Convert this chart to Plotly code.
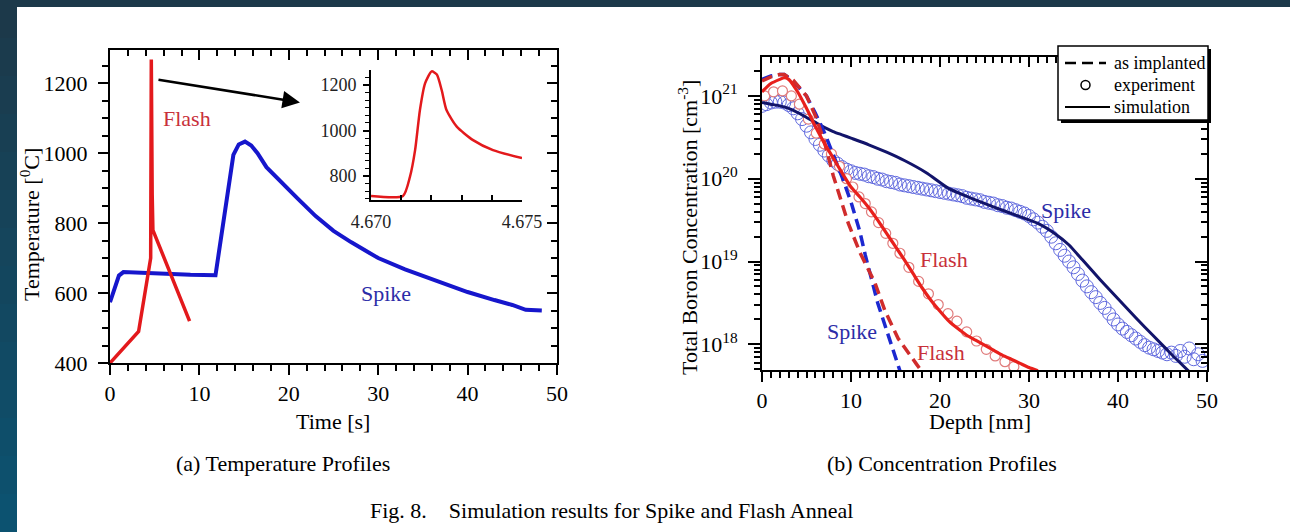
import plotly.graph_objects as go

# figure fills the whole 1290x532 window (body margin removed in the page)
OFF = 0
FW, FH = 1290, 532

# ---------------- (a) Temperature profiles ----------------
spike_time = [0, 0.5, 1.0, 1.5, 3, 6, 9, 11.8, 12.5, 13.2, 13.8, 14.4, 15.1, 15.8, 16.5, 17.5,
              19, 21, 23, 25, 27, 30, 33, 35, 38, 40, 43, 45, 46.5, 48.3]
spike_temp = [574, 615, 650, 660, 658, 655, 652, 651, 770, 895, 995, 1025, 1033, 1022, 1000, 960,
              920, 870, 820, 778, 745, 700, 668, 650, 622, 603, 580, 566, 552, 550]

flash_time = [0, 3.2, 4.55, 4.62, 4.72, 4.8, 8.9]
flash_temp = [400, 490, 700, 1268, 880, 780, 520]

inset_time = [4.6700, 4.67106, 4.67129, 4.67146, 4.67162, 4.67179, 4.67201, 4.67218,
              4.67234, 4.6725, 4.67284, 4.67338, 4.67404, 4.6750]
inset_temp = [713, 713, 797, 914, 1090, 1207, 1260, 1246, 1178, 1090, 1017, 958, 914, 879]

temp_ticks = [400, 600, 800, 1000, 1200]
time_ticks = [0, 10, 20, 30, 40, 50]
inset_yticks = [800, 1000, 1200]
inset_xticks = [4.670, 4.675]
inset_xlabels = ["4.670", "4.675"]

# ---------------- (b) Concentration profiles (log10 of cm^-3) ----------------
spike_impl_depth = [0, 1, 2, 2.5, 3.5, 5, 6, 7, 8, 9, 10, 11, 11.6, 13, 14, 15, 15.5]
spike_impl_log = [21.20, 21.24, 21.26, 21.26, 21.18, 21.0, 20.79, 20.56, 20.29, 20.02, 19.72,
                  19.36, 19.08, 18.50, 18.17, 17.84, 17.68]

flash_impl_depth = [0, 1, 2, 2.5, 3.5, 5, 6, 7, 8, 9, 9.7, 11, 12.7, 13.8, 15.3, 17.3, 17.9]
flash_impl_log = [21.18, 21.23, 21.26, 21.26, 21.19, 21.0, 20.76, 20.45, 20.04, 19.70, 19.46,
                  19.11, 18.74, 18.41, 18.07, 17.77, 17.68]

spike_sim_depth = [0, 1, 2, 3, 4, 5, 6, 7, 8, 9, 10, 12, 14, 16, 18.5, 21, 23.4, 26, 28.5, 31,
                   33, 34.5, 36, 38, 40, 42, 44, 46, 48]
spike_sim_log = [20.92, 20.90, 20.88, 20.85, 20.80, 20.74, 20.68, 20.62, 20.57, 20.53, 20.49,
                 20.41, 20.32, 20.22, 20.07, 19.88, 19.77, 19.66, 19.56, 19.46, 19.33, 19.20,
                 19.02, 18.78, 18.55, 18.32, 18.10, 17.88, 17.67]

flash_sim_depth = [0, 1, 2, 2.5, 3, 4, 5, 6, 7, 8, 9, 10, 11, 12, 13, 14, 15, 16, 17, 18, 19,
                   20, 21, 22, 23, 24, 25, 26, 27, 28, 29, 30, 31]
flash_sim_log = [21.05, 21.15, 21.20, 21.22, 21.20, 21.05, 20.85, 20.63, 20.43, 20.25, 20.07,
                 19.90, 19.78, 19.65, 19.50, 19.34, 19.18, 19.02, 18.85, 18.68, 18.53, 18.40,
                 18.28, 18.19, 18.11, 18.05, 17.99, 17.93, 17.87, 17.82, 17.77, 17.72, 17.68]

spike_exp_depth = [0.0, 0.5, 1.0, 1.5, 2.0, 2.5, 3.0, 3.5, 4.0, 4.5,
                   5.0, 5.5, 6.0, 6.5, 7.0, 7.5, 8.0, 8.5, 9.0, 9.5,
                   10.0, 10.5, 11.0, 11.5, 12.0, 12.5, 13.0, 13.5, 14.0, 14.5,
                   15.0, 15.5, 16.0, 16.5, 17.0, 17.5, 18.0, 18.5, 19.0, 19.5,
                   20.0, 20.5, 21.0, 21.5, 22.0, 22.5, 23.0, 23.5, 24.0, 24.5,
                   25.0, 25.5, 26.0, 26.5, 27.0, 27.5, 28.0, 28.5, 29.0, 29.5,
                   30.0, 30.5, 31.0, 31.5, 32.0, 32.5, 33.0, 33.5, 34.0, 34.5,
                   35.0, 35.5, 36.0, 36.5, 37.0, 37.5, 38.0, 38.5, 39.0, 39.5,
                   40.0, 40.5, 41.0, 41.5, 42.0, 42.5, 43.0, 43.5, 44.0, 44.5,
                   45.0, 45.5, 46.0, 46.5, 47.0, 47.5, 48.0, 48.5, 49.0, 49.5]
spike_exp_log = [20.88, 20.90, 20.92, 20.93, 20.93, 20.92, 20.89, 20.85, 20.79, 20.72,
                 20.64, 20.56, 20.48, 20.41, 20.34, 20.28, 20.22, 20.18, 20.14, 20.11,
                 20.09, 20.07, 20.06, 20.05, 20.03, 20.02, 20.00, 19.99, 19.97, 19.96,
                 19.95, 19.93, 19.92, 19.91, 19.90, 19.89, 19.88, 19.87, 19.86, 19.85,
                 19.84, 19.83, 19.82, 19.81, 19.80, 19.79, 19.77, 19.76, 19.75, 19.74,
                 19.72, 19.71, 19.70, 19.68, 19.67, 19.65, 19.64, 19.62, 19.60, 19.58,
                 19.55, 19.51, 19.47, 19.42, 19.37, 19.30, 19.22, 19.14, 19.07, 19.00,
                 18.93, 18.85, 18.77, 18.70, 18.63, 18.57, 18.50, 18.44, 18.37, 18.30,
                 18.24, 18.19, 18.15, 18.11, 18.07, 18.03, 17.99, 17.96, 17.94, 17.92,
                 17.90, 17.88, 17.90, 17.86, 17.92, 17.85, 17.95, 17.82, 17.88, 17.80]

flash_exp_depth = [0.3, 1.3, 2.3, 3.3, 4.2, 5.2, 6.1, 7.0, 7.8, 8.7, 9.5, 10.2, 10.9, 11.6,
                   12.3, 13.1, 13.9, 14.7, 15.5, 16.5, 17.6, 18.7, 19.8, 20.9, 21.9, 23.0,
                   24.1, 25.2, 26.2, 27.3, 28.3]
flash_exp_log = [21.00, 21.05, 21.06, 21.00, 20.90, 20.72, 20.55, 20.42, 20.30, 20.15, 20.00,
                 19.90, 19.78, 19.70, 19.60, 19.47, 19.34, 19.22, 19.10, 18.93, 18.76, 18.61,
                 18.48, 18.37, 18.28, 18.15, 18.04, 17.94, 17.86, 17.79, 17.73]

conc_tick_exps = [18, 19, 20, 21]
depth_ticks = [0, 10, 20, 30, 40, 50]
legend_labels = ["as implanted", "experiment", "simulation"]


def pw(v):
    return [10.0 ** float(x) for x in v]


# ---------------- styling ----------------
SERIF = "Liberation Serif, Times New Roman, serif"
RED = "#e3191c"
BLUE = "#1616cc"
NAVY = "#12146a"
LBLUE = "#6069de"
LRED = "#e07c7c"
LBL_RED = "#c8303a"
LBL_BLUE = "#2c2ca8"


def fx(p):
    return (p - OFF) / FW


def fy(p):
    return 1 - (p - OFF) / FH


fig = go.Figure()

# left chart traces
fig.add_trace(go.Scatter(x=spike_time, y=spike_temp, mode="lines",
                         line=dict(color=BLUE, width=4), xaxis="x", yaxis="y", showlegend=False))
fig.add_trace(go.Scatter(x=flash_time, y=flash_temp, mode="lines",
                         line=dict(color=RED, width=3.5), xaxis="x", yaxis="y", showlegend=False))
fig.add_trace(go.Scatter(x=[None], y=[None], xaxis="x2", yaxis="y", showlegend=False))
fig.add_trace(go.Scatter(x=[None], y=[None], xaxis="x", yaxis="y2", showlegend=False))
# inset
fig.add_trace(go.Scatter(x=inset_time, y=inset_temp, mode="lines",
                         line=dict(color=RED, width=2.5, shape="spline", smoothing=0.6),
                         xaxis="x3", yaxis="y3", showlegend=False, cliponaxis=False))

# right chart traces
fig.add_trace(go.Scatter(x=spike_exp_depth, y=pw(spike_exp_log), mode="markers",
                         marker=dict(symbol="circle-open", size=13, color=LBLUE,
                                     line=dict(width=1.0, color=LBLUE)),
                         xaxis="x4", yaxis="y4", showlegend=False))
fig.add_trace(go.Scatter(x=flash_exp_depth, y=pw(flash_exp_log), mode="markers",
                         marker=dict(symbol="circle", size=10, color="white",
                                     line=dict(width=1.2, color=LRED)),
                         xaxis="x4", yaxis="y4", showlegend=False))
fig.add_trace(go.Scatter(x=spike_sim_depth, y=pw(spike_sim_log), mode="lines",
                         line=dict(color=NAVY, width=3, shape="spline", smoothing=0.5),
                         xaxis="x4", yaxis="y4", showlegend=False))
fig.add_trace(go.Scatter(x=spike_impl_depth, y=pw(spike_impl_log), mode="lines",
                         line=dict(color="#1c28d0", width=3.5, dash="11px,6px"),
                         xaxis="x4", yaxis="y4", showlegend=False))
fig.add_trace(go.Scatter(x=flash_impl_depth, y=pw(flash_impl_log), mode="lines",
                         line=dict(color="#d02c2c", width=3.5, dash="11px,6px"),
                         xaxis="x4", yaxis="y4", showlegend=False))
fig.add_trace(go.Scatter(x=flash_sim_depth, y=pw(flash_sim_log), mode="lines",
                         line=dict(color="#e8201c", width=3.2, shape="spline", smoothing=0.5),
                         xaxis="x4", yaxis="y4", showlegend=False))
fig.add_trace(go.Scatter(x=[None], y=[None], xaxis="x5", yaxis="y4", showlegend=False))
fig.add_trace(go.Scatter(x=[None], y=[None], xaxis="x4", yaxis="y5", showlegend=False))

tickfont = dict(family=SERIF, size=22, color="black")
base = dict(showline=True, linecolor="black", linewidth=2, showgrid=False, zeroline=False,
            tickcolor="black", tickwidth=2, fixedrange=True, automargin=False)

L_DOM_X = [fx(110), fx(557)]
L_DOM_Y = [fy(363), fy(50)]
I_DOM_X = [fx(371), fx(522)]
I_DOM_Y = [fy(200), fy(70)]
R_DOM_X = [fx(762), fx(1207)]
R_DOM_Y = [fy(370), fy(57)]
T_RANGE = [400, 1295]
C_RANGE = [17.69, 21.47]
conc_tickvals = pw(conc_tick_exps)

fig.update_layout(
    width=FW, height=FH, margin=dict(l=0, r=0, t=0, b=0, pad=0), autosize=False,
    paper_bgcolor="#1c394a", plot_bgcolor="white", showlegend=False,
    font=dict(family=SERIF, color="black"),
    xaxis=dict(domain=L_DOM_X, range=[0, 50], anchor="y", tickvals=time_ticks,
               ticktext=[str(v) for v in time_ticks], ticks="outside", ticklen=10,
               tickfont=tickfont, ticklabelstandoff=0,
               minor=dict(dtick=2, tick0=0, ticks="outside", ticklen=6, tickcolor="black", tickwidth=1.5),
               **base),
    xaxis2=dict(overlaying="x", side="top", anchor="y", range=[0, 50], tickvals=time_ticks,
                showticklabels=False, ticks="inside", ticklen=10,
                minor=dict(dtick=2, tick0=0, ticks="inside", ticklen=6, tickcolor="black", tickwidth=1.5),
                **base),
    yaxis=dict(domain=L_DOM_Y, range=T_RANGE, anchor="x", tickvals=temp_ticks,
               ticktext=[str(v) for v in temp_ticks], ticks="outside", ticklen=10,
               tickfont=tickfont, ticklabelstandoff=6,
               minor=dict(dtick=50, tick0=400, ticks="outside", ticklen=6, tickcolor="black", tickwidth=1.5),
               **base),
    yaxis2=dict(overlaying="y", side="right", anchor="x", range=T_RANGE, tickvals=temp_ticks,
                showticklabels=False, ticks="inside", ticklen=10,
                minor=dict(dtick=50, tick0=400, ticks="inside", ticklen=6, tickcolor="black", tickwidth=1.5),
                **base),
    xaxis3=dict(domain=I_DOM_X, range=[4.670, 4.675], anchor="y3", tickvals=inset_xticks,
                ticktext=inset_xlabels, ticks="inside", ticklen=6,
                tickfont=dict(family=SERIF, size=18, color="#222"), ticklabelstandoff=4,
                minor=dict(dtick=0.001, tick0=4.670, ticks="inside", ticklen=5, tickcolor="black", tickwidth=1.5),
                **base),
    yaxis3=dict(domain=I_DOM_Y, range=[695, 1266], anchor="x3", tickvals=inset_yticks,
                ticktext=[str(v) for v in inset_yticks], ticks="outside", ticklen=6,
                tickfont=dict(family=SERIF, size=18, color="#222"), ticklabelstandoff=3,
                minor=dict(dtick=200 / 6, tick0=800, ticks="outside", ticklen=4, tickcolor="black", tickwidth=1.2),
                **base),
    xaxis4=dict(domain=R_DOM_X, range=[0, 50], anchor="y4", tickvals=depth_ticks,
                ticktext=[str(v) for v in depth_ticks], ticks="outside", ticklen=10,
                tickfont=tickfont, ticklabelstandoff=0,
                minor=dict(dtick=1, tick0=0, ticks="outside", ticklen=6, tickcolor="black", tickwidth=1.5),
                **base),
    xaxis5=dict(overlaying="x4", side="top", anchor="y4", range=[0, 50], tickvals=depth_ticks,
                showticklabels=False, ticks="inside", ticklen=10,
                minor=dict(dtick=1, tick0=0, ticks="inside", ticklen=6, tickcolor="black", tickwidth=1.5),
                **base),
    yaxis4=dict(domain=R_DOM_Y, type="log", range=C_RANGE, anchor="x4",
                tickvals=conc_tickvals,
                ticktext=["10<sup>%d</sup>" % e for e in conc_tick_exps],
                ticks="outside", ticklen=12, tickfont=tickfont, ticklabelstandoff=6,
                minor=dict(dtick="D1", ticks="outside", ticklen=6, tickcolor="black", tickwidth=1.5),
                **base),
    yaxis5=dict(overlaying="y4", side="right", anchor="x4", type="log", range=C_RANGE,
                tickvals=conc_tickvals, showticklabels=False,
                ticks="inside", ticklen=12,
                minor=dict(dtick="D1", ticks="inside", ticklen=6, tickcolor="black", tickwidth=1.5),
                **base),
)


def prect(x0, y0, x1, y1, **kw):
    return dict(type="rect", xref="paper", yref="paper", x0=fx(x0), x1=fx(x1),
                y0=fy(y1), y1=fy(y0), **kw)


shapes = []
# white slide area
shapes.append(dict(type="rect", xref="paper", yref="paper", x0=fx(17), x1=1, y0=0, y1=fy(7),
                   fillcolor="white", line=dict(width=0), layer="below"))
# left gradient band
n = 14
c0 = (0x1c, 0x39, 0x4a)
c1 = (0x0c, 0x52, 0x70)
for i in range(n):
    t = i / (n - 1)
    col = "rgb(%d,%d,%d)" % tuple(round(a + (b - a) * t) for a, b in zip(c0, c1))
    shapes.append(dict(type="rect", xref="paper", yref="paper", x0=0, x1=fx(17),
                       y0=1 - (i + 1) / n, y1=1 - i / n, fillcolor=col, line=dict(width=0),
                       layer="below"))
# legend box: shadow, frame, keys
shapes.append(prect(1061, 49, 1211, 123, fillcolor="black", line=dict(width=0), layer="above"))
shapes.append(prect(1058, 46, 1208, 120, fillcolor="white", line=dict(color="black", width=1.5),
                    layer="above"))
shapes.append(dict(type="line", xref="paper", yref="paper", x0=fx(1065), x1=fx(1106),
                   y0=fy(63), y1=fy(63), line=dict(color="black", width=2.5, dash="11px,6px"),
                   layer="above"))
shapes.append(dict(type="circle", xref="paper", yref="paper", x0=fx(1081), x1=fx(1090),
                   y0=fy(89.5), y1=fy(80.5), line=dict(color="black", width=1.5), layer="above"))
shapes.append(dict(type="line", xref="paper", yref="paper", x0=fx(1065), x1=fx(1110),
                   y0=fy(107), y1=fy(107), line=dict(color="black", width=2), layer="above"))
fig.update_layout(shapes=shapes)

ann = []
lbl = dict(family=SERIF, size=22)
C = dict(xanchor="center", yanchor="middle", showarrow=False)
ann.append(dict(x=8.6, y=1099, xref="x", yref="y", text="Flash", font=dict(lbl, color=LBL_RED), **C))
ann.append(dict(x=30.9, y=600, xref="x", yref="y", text="Spike", font=dict(lbl, color=LBL_BLUE), **C))
# arrow
ann.append(dict(x=21.25, y=1145, xref="x", yref="y", ax=-143, ay=-23, text="",
                showarrow=True, arrowhead=2, arrowsize=1.4, arrowwidth=2.5, arrowcolor="black"))
# right labels
ann.append(dict(x=34.2, y=19.62, xref="x4", yref="y4", text="Spike", font=dict(lbl, color=LBL_BLUE), **C))
ann.append(dict(x=20.4, y=19.02, xref="x4", yref="y4", text="Flash", font=dict(lbl, color=LBL_RED), **C))
ann.append(dict(x=10.1, y=18.15, xref="x4", yref="y4", text="Spike", font=dict(lbl, color=LBL_BLUE), **C))
ann.append(dict(x=20.1, y=17.9, xref="x4", yref="y4", text="Flash", font=dict(lbl, color=LBL_RED), **C))
# legend texts
for lab, ly in zip(legend_labels, [63, 85, 107]):
    ann.append(dict(x=fx(1112), y=fy(ly), xref="paper", yref="paper", text=lab, xanchor="left",
                    yanchor="middle", showarrow=False, font=dict(family=SERIF, size=18)))
# axis titles
ann.append(dict(x=fx(333), y=fy(421), xref="paper", yref="paper", text="Time [s]", font=lbl, **C))
ann.append(dict(x=fx(980), y=fy(421), xref="paper", yref="paper", text="Depth [nm]", font=lbl, **C))
ann.append(dict(x=fx(30), y=fy(225), xref="paper", yref="paper", text="Temperature [<sup>0</sup>C]",
                textangle=-90, font=lbl, **C))
ann.append(dict(x=fx(688), y=fy(228), xref="paper", yref="paper",
                text="Total Boron Concentration [cm<sup>-3</sup>]", textangle=-90, font=lbl, **C))
# captions
ann.append(dict(x=fx(283), y=fy(463), xref="paper", yref="paper", text="(a) Temperature Profiles",
                font=dict(family=SERIF, size=22), **C))
ann.append(dict(x=fx(942), y=fy(463), xref="paper", yref="paper", text="(b) Concentration Profiles",
                font=dict(family=SERIF, size=22), **C))
ann.append(dict(x=fx(611), y=fy(510), xref="paper", yref="paper",
                text="Fig. 8.&nbsp;&nbsp;&nbsp; Simulation results for Spike and Flash Anneal",
                font=dict(family=SERIF, size=22), **C))
fig.update_layout(annotations=ann)

# remove the default page margin so the figure sits at the window origin; hide the modebar
fig.write_html("out.html", config={"displayModeBar": False},
               post_script="document.body.style.margin='0';document.body.style.overflow='hidden';")
